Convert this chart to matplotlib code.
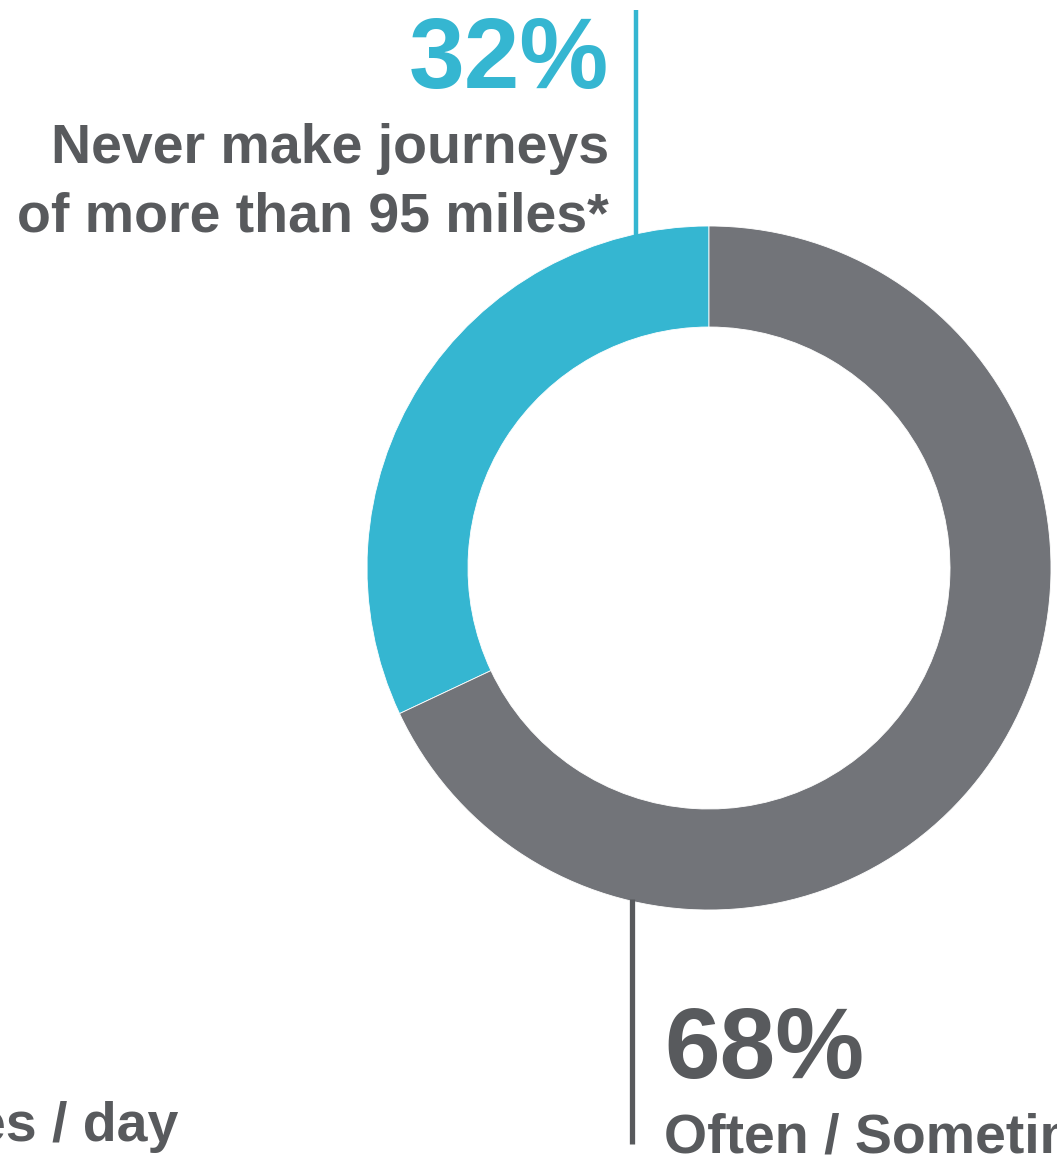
import matplotlib
matplotlib.use("Agg")
import matplotlib.pyplot as plt

plt.rcParams['font.family'] = ['Liberation Sans', 'DejaVu Sans']

# Data
categories = ["Never make journeys\nof more than 95 miles*", "Often / Sometimes"]
values = [32, 68]
pct_labels = ["32%", "68%"]
colors = ["#35b6d1", "#727479"]
text_gray = "#585a5d"

W, H = 1057, 1168
fig = plt.figure(figsize=(W / 100, H / 100), dpi=100)
ax = fig.add_axes([0, 0, 1, 1])

def Y(py):
    return H - py

cx, cy, R, ring = 709, 568, 342, 101
ax.pie(values, colors=colors, startangle=90, counterclock=True,
       center=(cx, Y(cy)), radius=R,
       wedgeprops=dict(width=ring, edgecolor="white", linewidth=0.6))
ax.set_xlim(0, W)
ax.set_ylim(0, H)
ax.set_aspect('auto')
ax.axis('off')

# leader lines
ax.plot([636, 636], [Y(10), Y(236)], color=colors[0], lw=3.2, solid_capstyle='butt')
ax.plot([632, 632], [Y(899), Y(1144)], color=text_gray, lw=3.8, solid_capstyle='butt')

# labels top-left
ax.text(609, Y(88), pct_labels[0], color=colors[0], fontsize=72, fontweight='bold',
        ha='right', va='baseline')
ax.text(609, Y(163), "Never make journeys", color=text_gray, fontsize=40,
        fontweight='bold', ha='right', va='baseline')
ax.text(609, Y(231), "of more than 95 miles*", color=text_gray, fontsize=40,
        fontweight='bold', ha='right', va='baseline')

# labels bottom-right
ax.text(664, Y(1078), pct_labels[1], color=text_gray, fontsize=72, fontweight='bold',
        ha='left', va='baseline')
ax.text(664, Y(1153), categories[1], color=text_gray, fontsize=40, fontweight='bold',
        ha='left', va='baseline')

# cut-off label bottom-left
ax.text(178, Y(1141), "es / day", color=text_gray, fontsize=40, fontweight='bold',
        ha='right', va='baseline')

fig.savefig("out.png", dpi=100, facecolor="white")
